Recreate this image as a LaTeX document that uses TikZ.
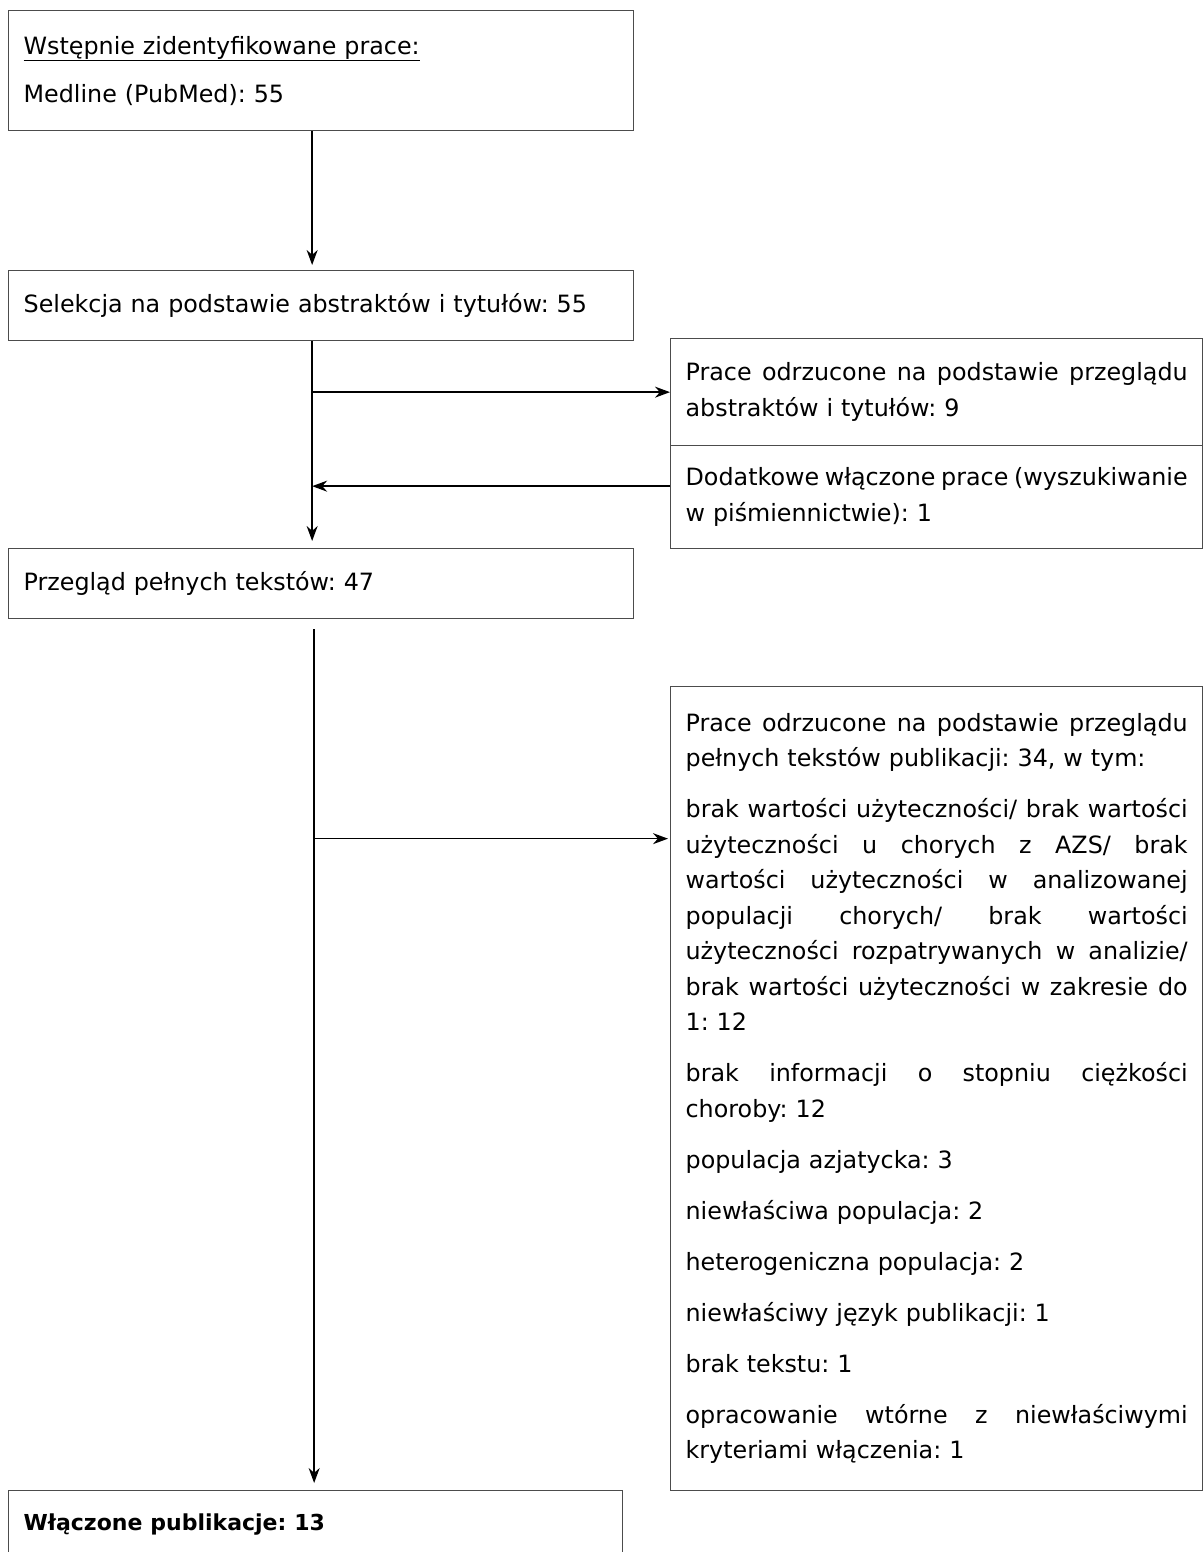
\documentclass[tikz,border=0pt]{standalone}
\usepackage{fontspec}
\setmainfont{DejaVu Sans}
\usetikzlibrary{arrows.meta}
\newcommand\jline[1]{\makebox[502pt][s]{\spaceskip=0pt\xspaceskip=0pt#1}}

\begin{document}
\begin{tikzpicture}[x=1pt,y=-1pt,>={Stealth[length=15pt,width=11pt]}]
		\tikzstyle{box}=[rectangle,draw=black!70,line width=1.3pt,anchor=north west,
			inner xsep=15pt,inner ysep=0pt,align=left,
			font=\fontsize{23.8}{35.5}\selectfont\frenchspacing];
		\tikzstyle{flow}=[line width=1.5pt,draw=black];
		\useasboundingbox (0,0) rectangle (1203,1552);

		\node[box,minimum width=625pt,minimum height=120pt,text width=595pt](00) at (8,10)
			{\underline{Wstępnie zidentyfikowane prace:}\\[12.5pt]Medline (PubMed): 55};
		\node[box,minimum width=625pt,minimum height=70pt,text width=595pt](10) at (8,270)
			{Selekcja na podstawie abstraktów i tytułów: 55};
		\node[box,minimum width=532pt,minimum height=107pt,text width=502pt](11) at (670,338)
			{\jline{Prace odrzucone na podstawie przeglądu}\\abstraktów i tytułów: 9};
		\node[box,minimum width=532pt,minimum height=103pt,text width=502pt](12) at (670,445)
			{\jline{Dodatkowe włączone prace (wyszukiwanie}\\w piśmiennictwie): 1};
		\node[box,minimum width=625pt,minimum height=70pt,text width=595pt](20) at (8,548)
			{Przegląd pełnych tekstów: 47};
		\node[box,minimum width=532pt,minimum height=804pt,text width=502pt](21) at (670,686)
			{\jline{Prace odrzucone na podstawie przeglądu}\\
			pełnych tekstów publikacji: 34, w tym:\\[15.5pt]
			\jline{brak wartości użyteczności/ brak wartości}\\
			\jline{użyteczności u chorych z AZS/ brak}\\
			\jline{wartości użyteczności w analizowanej}\\
			\jline{populacji chorych/ brak wartości}\\
			\jline{użyteczności rozpatrywanych w analizie/}\\
			\jline{brak wartości użyteczności w zakresie do}\\
			1: 12\\[15.5pt]
			\jline{brak informacji o stopniu ciężkości}\\
			choroby: 12\\[15.5pt]
			populacja azjatycka: 3\\[15.5pt]
			niewłaściwa populacja: 2\\[15.5pt]
			heterogeniczna populacja: 2\\[15.5pt]
			niewłaściwy język publikacji: 1\\[15.5pt]
			brak tekstu: 1\\[15.5pt]
			\jline{opracowanie wtórne z niewłaściwymi}\\
			kryteriami włączenia: 1};
		\node[box,minimum width=614pt,minimum height=68pt,text width=584pt](30) at (8,1490)
			{\fontsize{22}{35.5}\selectfont\textbf{Włączone publikacje: 13}};

		\coordinate(t1) at ([xshift=-9pt]10.south);
		\coordinate(t2) at ([xshift=-7pt,yshift=-10pt]20.south);
		\coordinate(b1) at ([yshift=11pt]12.west);
		\coordinate(b2) at ([yshift=250pt]21.west);

		\draw[flow,->]([xshift=-9pt]00.south)--([xshift=-9pt,yshift=5pt]10.north);
		\draw[flow,->](t1)--([xshift=-9pt,yshift=7pt]20.north);
		\draw[flow,->](t1|-11.west)--(11.west);
		\draw[flow,->](b1)--(b1-|t1);
		\draw[flow,->](t2)--([yshift=7pt]t2|-30.north);
		\draw[flow,->](t2|-b2)--([xshift=-2pt]b2);
	\end{tikzpicture}
\end{document}
